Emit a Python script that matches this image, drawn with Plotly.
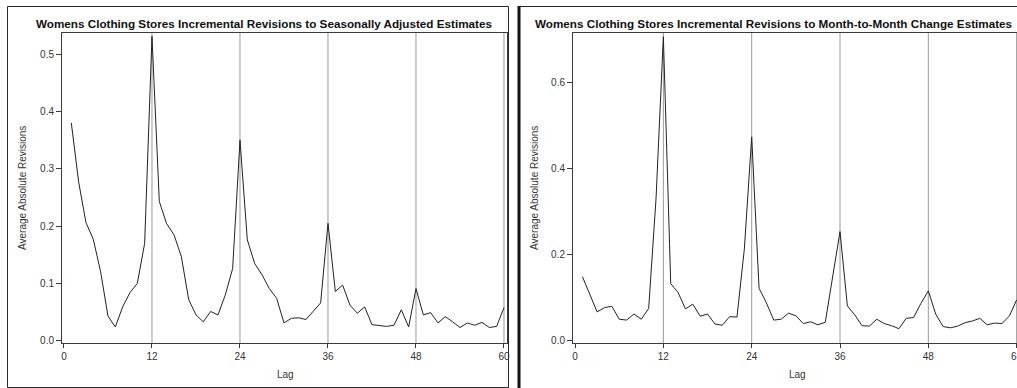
import plotly.graph_objects as go

lags = list(range(1, 61))
sa_revisions = [0.380, 0.277, 0.206, 0.177, 0.120, 0.043, 0.024, 0.059, 0.084, 0.100,
                0.170, 0.531, 0.243, 0.204, 0.185, 0.147, 0.072, 0.045, 0.033, 0.051,
                0.045, 0.080, 0.126, 0.350, 0.176, 0.135, 0.115, 0.091, 0.074, 0.031,
                0.039, 0.040, 0.037, 0.052, 0.066, 0.205, 0.086, 0.097, 0.062, 0.048,
                0.059, 0.028, 0.026, 0.025, 0.027, 0.054, 0.024, 0.091, 0.045, 0.049,
                0.031, 0.042, 0.033, 0.023, 0.031, 0.027, 0.032, 0.023, 0.025, 0.058]
mm_revisions = [0.149, 0.110, 0.067, 0.077, 0.080, 0.050, 0.048, 0.062, 0.050, 0.075,
                0.330, 0.707, 0.133, 0.112, 0.074, 0.085, 0.057, 0.062, 0.039, 0.036,
                0.056, 0.055, 0.213, 0.474, 0.122, 0.088, 0.048, 0.050, 0.064, 0.058,
                0.040, 0.044, 0.037, 0.043, 0.150, 0.254, 0.081, 0.060, 0.035, 0.034,
                0.050, 0.040, 0.035, 0.028, 0.052, 0.054, 0.087, 0.116, 0.062, 0.033,
                0.030, 0.034, 0.042, 0.046, 0.052, 0.037, 0.041, 0.040, 0.057, 0.095]
x_ticks = [0, 12, 24, 36, 48, 60]
grid_lags = [12, 24, 36, 48, 60]
left_title = "Womens Clothing Stores Incremental Revisions to Seasonally Adjusted Estimates"
right_title = "Womens Clothing Stores Incremental Revisions to Month-to-Month Change Estimates"
y_title = "Average Absolute Revisions"
x_title = "Lag"

W, H = 1017, 388
FONT = "Liberation Sans, Arial, sans-serif"
TXT = "#333333"
AX = "#3a3a3a"


def px(x):
    return x / W


def py(y):
    return 1 - y / H


fig = go.Figure()
fig.add_trace(go.Scatter(x=lags, y=sa_revisions, mode="lines",
                         line=dict(color="#222222", width=1), xaxis="x", yaxis="y",
                         showlegend=False))
fig.add_trace(go.Scatter(x=lags, y=mm_revisions, mode="lines",
                         line=dict(color="#222222", width=1), xaxis="x2", yaxis="y2",
                         showlegend=False))

xcommon = dict(tickmode="array", tickvals=x_ticks, ticktext=[str(t) for t in x_ticks],
               showgrid=False, zeroline=False, showline=True, mirror=True,
               linecolor=AX, linewidth=1, ticks="outside", ticklen=4, tickcolor=AX,
               ticklabeloverflow="allow", automargin=False,
               tickfont=dict(family=FONT, size=10, color=TXT))
ycommon = dict(showgrid=False, zeroline=False, showline=True, mirror=True,
               linecolor=AX, linewidth=1, ticks="outside", ticklen=5, tickcolor=AX,
               automargin=False,
               tickformat=".1f", tickfont=dict(family=FONT, size=10, color=TXT))

y_dom = [py(343), py(33)]
fig.update_layout(
    template="none",
    width=W, height=H, margin=dict(l=0, r=0, t=0, b=0, pad=0),
    paper_bgcolor="white", plot_bgcolor="white",
    xaxis=dict(domain=[px(62), px(507)], range=[-0.27, 60.41], anchor="y", **xcommon),
    yaxis=dict(domain=y_dom, range=[-0.004, 0.537], dtick=0.1, tick0=0, anchor="x", **ycommon),
    xaxis2=dict(domain=[px(573), 1.0], range=[-0.28, 60.05], anchor="y2", **xcommon),
    yaxis2=dict(domain=y_dom, range=[-0.0053, 0.7156], dtick=0.2, tick0=0, anchor="x2", **ycommon),
)

shapes = []
for g in grid_lags:
    shapes.append(dict(type="line", xref="x", yref="y domain", x0=g, x1=g, y0=0, y1=1,
                       line=dict(color="#9a9a9a", width=1), layer="below"))
    shapes.append(dict(type="line", xref="x2", yref="y2 domain", x0=g, x1=g, y0=0, y1=1,
                       line=dict(color="#9a9a9a", width=1), layer="below"))
# panel borders
shapes.append(dict(type="rect", xref="paper", yref="paper", x0=px(7.5), x1=px(508.5),
                   y0=py(387.5), y1=py(6.5), line=dict(color="#2a2a2a", width=1)))
shapes.append(dict(type="line", xref="paper", yref="paper", x0=px(519), x1=px(519),
                   y0=0, y1=py(6), line=dict(color="#111111", width=3)))
shapes.append(dict(type="line", xref="paper", yref="paper", x0=px(519), x1=1,
                   y0=py(6.5), y1=py(6.5), line=dict(color="#2a2a2a", width=1)))
fig.update_layout(shapes=shapes)

ann = []
ann.append(dict(text="<b>" + left_title + "</b>", x=px(264), y=py(23), xref="paper", yref="paper",
                showarrow=False, xanchor="center", yanchor="middle",
                font=dict(family=FONT, size=11.7, color="#111111")))
ann.append(dict(text="<b>" + right_title + "</b>", x=px(533), y=py(23), xref="paper", yref="paper",
                showarrow=False, xanchor="left", yanchor="middle",
                font=dict(family=FONT, size=11.7, color="#111111")))
for xc in (22, 534):
    ann.append(dict(text=y_title, x=px(xc), y=py(188), xref="paper", yref="paper",
                    showarrow=False, textangle=-90, xanchor="center", yanchor="middle",
                    font=dict(family=FONT, size=10, color=TXT)))
for xc in (285, 797):
    ann.append(dict(text=x_title, x=px(xc), y=py(374), xref="paper", yref="paper",
                    showarrow=False, xanchor="center", yanchor="middle",
                    font=dict(family=FONT, size=10, color=TXT)))
fig.update_layout(annotations=ann)

fig.write_html("out.html", config={"displayModeBar": False},
               post_script="document.body.style.margin='0';document.body.style.overflow='hidden';")
